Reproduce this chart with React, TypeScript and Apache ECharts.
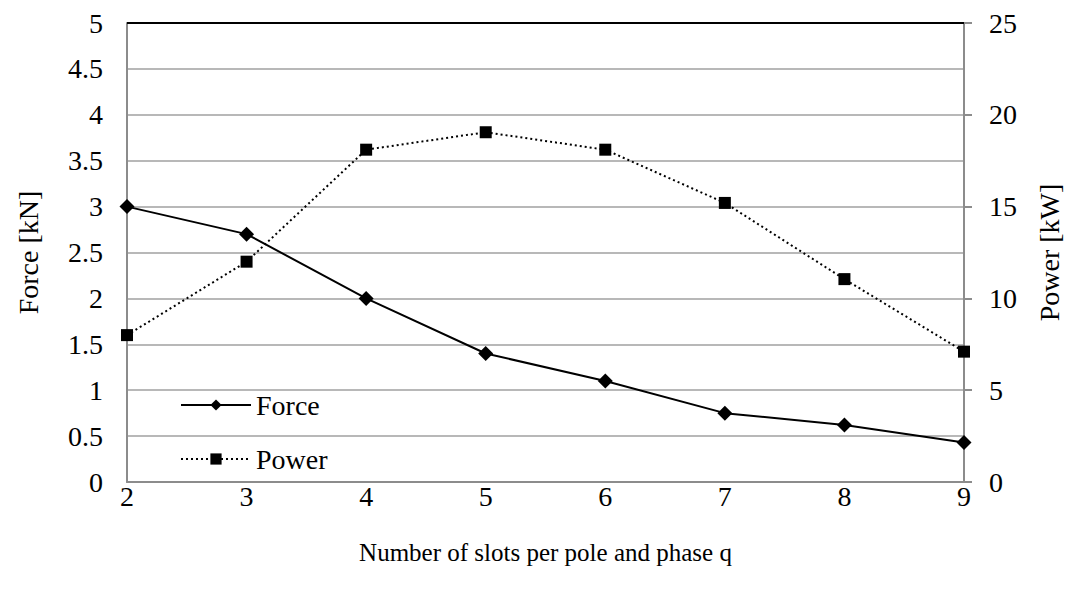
import React, { useEffect, useRef } from "react";
import * as echarts from "echarts";

const categories = ["2", "3", "4", "5", "6", "7", "8", "9"];
const forceValues = [3.0, 2.7, 2.0, 1.4, 1.1, 0.75, 0.62, 0.43];
const powerValues = [8.0, 12.0, 18.1, 19.05, 18.1, 15.2, 11.05, 7.1];

const FONT = "'Liberation Serif', 'Times New Roman', serif";
const TICK = 28;
const NAME = 28;
const XNAME = 25;

export default function App() {
  const ref = useRef<HTMLDivElement>(null);
  useEffect(() => {
    if (!ref.current) return;
    const chart = echarts.init(ref.current, null, { renderer: "svg" });
    chart.setOption({
      animation: false,
      backgroundColor: "#ffffff",
      textStyle: { fontFamily: FONT },
      grid: { left: 127, right: 106, top: 23, bottom: 116, containLabel: false },
      legend: {
        orient: "vertical",
        left: 175,
        top: 386,
        itemWidth: 70,
        itemHeight: 14,
        itemGap: 26,
        textStyle: { fontFamily: FONT, fontSize: TICK, color: "#000" },
        data: ["Force", "Power"],
      },
      xAxis: {
        type: "category",
        data: categories,
        boundaryGap: false,
        name: "Number of slots per pole and phase q",
        nameLocation: "middle",
        nameGap: 58,
        nameTextStyle: { fontFamily: FONT, fontSize: XNAME, color: "#000" },
        axisLine: { lineStyle: { color: "#8c8c8c", width: 2 } },
        axisTick: { show: false },
        axisLabel: { fontFamily: FONT, fontSize: TICK, color: "#000", margin: 0 },
        splitLine: { show: false },
      },
      yAxis: [
        {
          type: "value",
          min: 0,
          max: 5,
          interval: 0.5,
          name: "Force [kN]",
          nameLocation: "middle",
          nameGap: 85,
          nameTextStyle: { fontFamily: FONT, fontSize: NAME, color: "#000" },
          axisLine: { show: true, lineStyle: { color: "#8c8c8c", width: 2 } },
          axisTick: { show: false },
          axisLabel: { fontFamily: FONT, fontSize: TICK, color: "#000", margin: 24 },
          splitLine: { show: true, lineStyle: { color: "#a0a0a0", width: 1.5 } },
        },
        {
          type: "value",
          min: 0,
          max: 25,
          interval: 5,
          name: "Power [kW]",
          nameLocation: "middle",
          nameGap: 71,
          nameTextStyle: { fontFamily: FONT, fontSize: NAME, color: "#000" },
          axisLine: { show: true, lineStyle: { color: "#8c8c8c", width: 2 } },
          axisTick: { show: true, inside: false, length: 8, lineStyle: { color: "#8c8c8c", width: 2 } },
          axisLabel: { fontFamily: FONT, fontSize: TICK, color: "#000", margin: 25 },
          splitLine: { show: false },
        },
      ],
      series: [
        {
          name: "Force",
          type: "line",
          yAxisIndex: 0,
          data: forceValues,
          symbol: "diamond",
          symbolSize: 15,
          itemStyle: { color: "#000" },
          lineStyle: { color: "#000", width: 2 },
          markLine: {
            silent: true,
            symbol: "none",
            label: { show: false },
            lineStyle: { color: "#000", width: 2, type: "solid" },
            data: [{ yAxis: 5 }],
          },
        },
        {
          name: "Power",
          type: "line",
          yAxisIndex: 1,
          data: powerValues,
          symbol: "rect",
          symbolSize: 12,
          itemStyle: { color: "#000" },
          lineStyle: { color: "#000", width: 2, type: [2, 3] },
        },
      ],
    });
    return () => chart.dispose();
  }, []);
  return <div ref={ref} style={{ width: 1071, height: 598, position: "fixed", left: 0, top: 0 }} />;
}
